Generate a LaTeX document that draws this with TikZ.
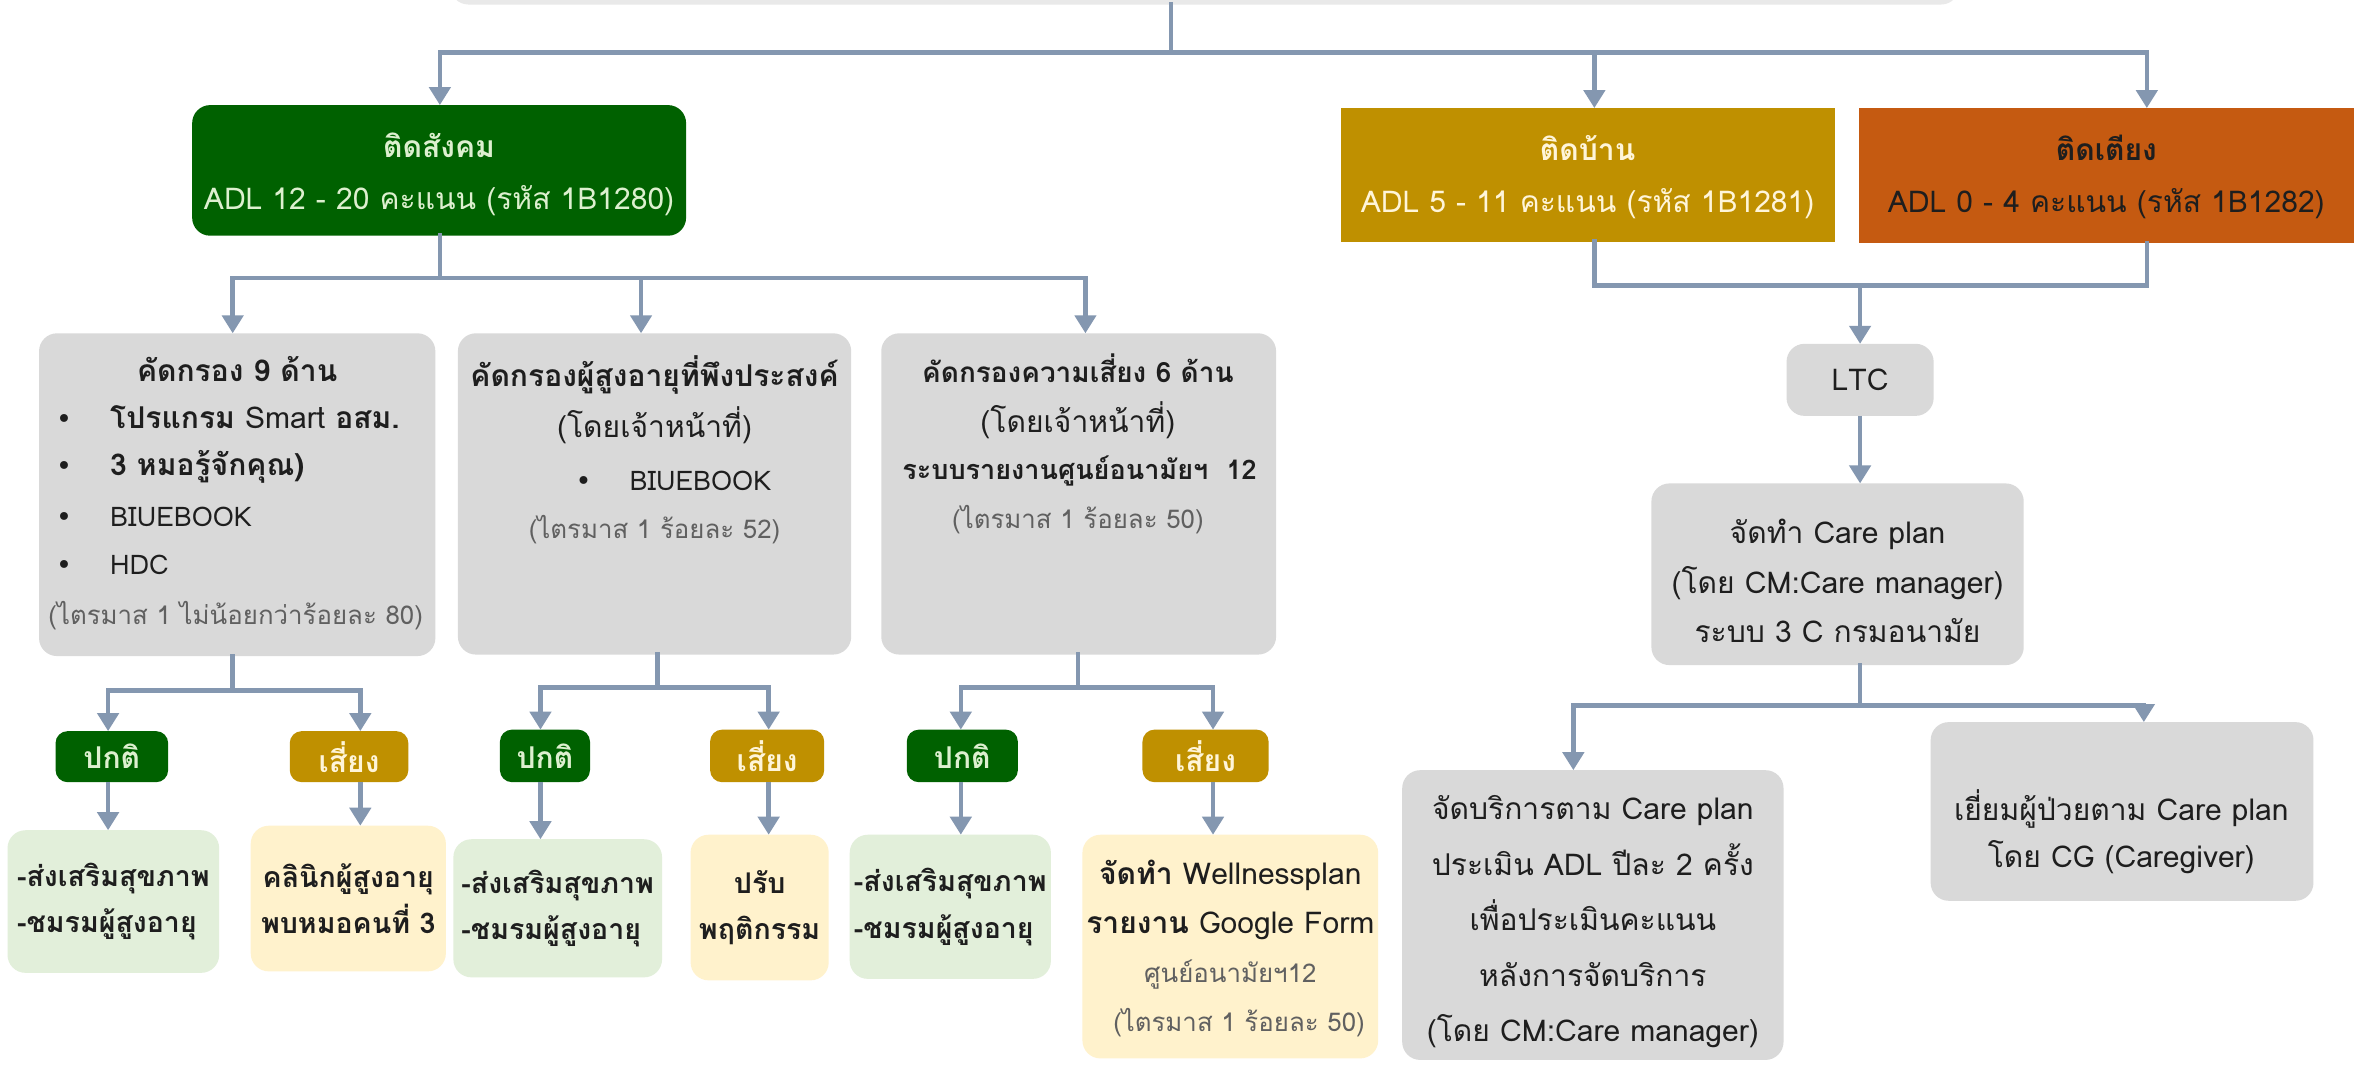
\documentclass[tikz,border=0pt]{standalone}
\usepackage{fontspec}
\setmainfont[Script=Thai]{Loma}
\newfontfamily\bulletfont{DejaVu Sans}
\usetikzlibrary{arrows.meta,fit,calc}
\definecolor{lineblue}{HTML}{8497B0}
\definecolor{dgreen}{HTML}{006100}
\definecolor{gold}{HTML}{BF9000}
\definecolor{rust}{HTML}{C55A11}
\definecolor{boxgray}{HTML}{D9D9D9}
\definecolor{topgray}{HTML}{E9E9E9}
\definecolor{lgreen}{HTML}{E2EFDA}
\definecolor{lyellow}{HTML}{FFF2CC}
\definecolor{txt}{HTML}{1E1E1E}
\definecolor{subtxt}{HTML}{606060}
\definecolor{ongreen}{HTML}{DDF0CF}
\definecolor{ongold}{HTML}{FFF5D9}
\newcommand\fsz{\fontsize{10}{15.5}\selectfont}
\newcommand\fszs{\fontsize{8.6}{15.5}\selectfont}
\newcommand\fszb{\fontsize{10}{18.5}\selectfont}
\newcommand\bul{\makebox[18pt][l]{\fontsize{9}{9}\bulletfont\char"2022}}
\begin{document}
\begin{tikzpicture}[x=0.5pt,y=-0.5pt,
  shp/.style={inner sep=0pt,outer sep=0pt,rounded corners=6pt},
  sqshp/.style={inner sep=0pt,outer sep=0pt},
  graybox/.style={shp,fill=boxgray},
  topbox/.style={shp,fill=topgray},
  greenbox/.style={shp,fill=dgreen},
  goldbox/.style={shp,fill=gold},
  lgbox/.style={shp,fill=lgreen},
  lybox/.style={shp,fill=lyellow},
  ln/.style={draw=lineblue,line width=1.5pt,line cap=rect},
  arr/.style={draw=lineblue,line width=1.5pt,-{Triangle[width=7pt,length=6pt]}},
  lbl/.style={inner sep=0pt,align=center,font=\fsz,text=txt},
  lbll/.style={inner sep=0pt,align=left,font=\fsz,text=txt},
  sub/.style={inner sep=0pt,align=center,font=\fszs,text=subtxt},
  bot/.style={font=\fontsize{9.5}{15.5}\selectfont},
]
\useasboundingbox (0,0) rectangle (1568,709);
\clip (0,0) rectangle (1568,709);
\fill[white] (0,0) rectangle (1568,709);

% ---- boxes ----
\node[topbox, fit={(300,-40) (1305,3)}] (top) {};
\node[greenbox, fit={(128,70) (457,157)}] (soc) {};
\node[sqshp, fill=gold, fit={(893,72) (1222,161)}] (home) {};
\node[sqshp, fill=rust, fit={(1238,72) (1568,162)}] (bed) {};
\node[graybox, fit={(1190,229) (1288,277)}] (ltc) {};
\node[graybox, fit={(1100,322) (1348,443)}] (cp) {};
\node[graybox, fit={(934,513) (1188,706)}] (svc) {};
\node[graybox, fit={(1286,481) (1541,600)}] (vis) {};
\node[graybox, fit={(26,222) (290,437)}] (s1) {};
\node[graybox, fit={(305,222) (567,436)}] (s2) {};
\node[graybox, fit={(587,222) (850,436)}] (s3) {};
\node[greenbox, rounded corners=4pt, fit={(37,487) (112,521)}] (n1) {};
\node[goldbox, rounded corners=4pt, fit={(193,487) (272,521)}] (r1) {};
\node[greenbox, rounded corners=4pt, fit={(333,486) (393,521)}] (n2) {};
\node[goldbox, rounded corners=4pt, fit={(473,486) (549,521)}] (r2) {};
\node[greenbox, rounded corners=4pt, fit={(604,486) (678,521)}] (n3) {};
\node[goldbox, rounded corners=4pt, fit={(761,486) (845,521)}] (r3) {};
\node[lgbox, fit={(5,553) (146,648)}] (a1) {};
\node[lybox, fit={(167,550) (297,647)}] (b1) {};
\node[lgbox, fit={(302,559) (441,651)}] (a2) {};
\node[lybox, fit={(460,556) (552,653)}] (b2) {};
\node[lgbox, fit={(566,556) (700,652)}] (a3) {};
\node[lybox, fit={(721,556) (918,705)}] (b3) {};

% ---- texts ----
\node[lbl, text=ongreen] (soct) at (292.5,116) {\bfseries ติดสังคม\\[2pt]ADL 12 - 20 คะแนน (รหัส 1B1280)};
\node[lbl, text=ongold] (homet) at (1057.5,118) {\bfseries ติดบ้าน\\[2pt]ADL 5 - 11 คะแนน (รหัส 1B1281)};
\node[lbl, text=txt] (bedt) at (1403,118) {\bfseries ติดเตียง\\[2pt]ADL 0 - 4 คะแนน (รหัส 1B1282)};
\node[lbl] (ltct) at (ltc.center) {LTC};
\node[lbl, font=\fontsize{10}{16.5}\selectfont] (cpt) at (1224,387) {จัดทำ Care plan\\(โดย CM:Care manager)\\ระบบ 3 C กรมอนามัย};
\node[lbl, font=\fszb] (svct) at (1061,614) {จัดบริการตาม Care plan\\ประเมิน ADL ปีละ 2 ครั้ง\\เพื่อประเมินคะแนน\\หลังการจัดบริการ\\(โดย CM:Care manager)};
\node[lbl] (vist) at (1413,554) {เยี่ยมผู้ป่วยตาม Care plan\\โดย CG (Caregiver)};

\node[lbl] (s1h) at (158,246) {\bfseries คัดกรอง 9 ด้าน};
\node[lbll, anchor=west] (s1b1) at (37,278) {\bul\textbf{โปรแกรม} Smart \textbf{อสม.}};
\node[lbll, anchor=west] (s1b2) at (37,311) {\bul\textbf{3 หมอรู้จักคุณ)}};
\node[lbll, anchor=west, font=\fontsize{9}{15}\selectfont] (s1b3) at (37,344) {\bul BIUEBOOK};
\node[lbll, anchor=west, font=\fontsize{9}{15}\selectfont] (s1b4) at (37,376) {\bul HDC};
\node[sub] (s1f) at (157,410) {(ไตรมาส 1 ไม่น้อยกว่าร้อยละ 80)};

\node[lbl] (s2h) at (436,250) {\bfseries คัดกรองผู้สูงอายุที่พึงประสงค์};
\node[lbl] (s2s) at (436,283) {(โดยเจ้าหน้าที่)};
\node[lbll, anchor=west, font=\fontsize{9}{15}\selectfont] (s2b1) at (383,320) {\bul BIUEBOOK};
\node[sub] (s2f) at (436,353) {(ไตรมาส 1 ร้อยละ 52)};

\node[lbl, font=\fontsize{9.3}{15}\selectfont] (s3h) at (718,245) {\bfseries คัดกรองความเสี่ยง 6 ด้าน};
\node[lbl] (s3s) at (718,280) {(โดยเจ้าหน้าที่)};
\node[lbl, font=\fontsize{9}{15}\selectfont] (s3r) at (719,314) {\bfseries ระบบรายงานศูนย์อนามัยฯ\ \ 12};
\node[sub] (s3f) at (718,346) {(ไตรมาส 1 ร้อยละ 50)};

\foreach \n in {n1,n2,n3} {\node[lbl, text=ongreen] (\n t) at (\n.center) {\bfseries ปกติ};}
\foreach \n in {r1,r2,r3} {\node[lbl, text=ongold] (\n t) at (\n.center) {\bfseries เสี่ยง};}

\node[lbll, bot] (a1t) at (a1.center) {\bfseries -ส่งเสริมสุขภาพ\\\bfseries -ชมรมผู้สูงอายุ};
\node[lbl, bot] (b1t) at (b1.center) {\bfseries คลินิกผู้สูงอายุ\\\bfseries พบหมอคนที่ 3};
\node[lbll, bot] (a2t) at (a2.center) {\bfseries -ส่งเสริมสุขภาพ\\\bfseries -ชมรมผู้สูงอายุ};
\node[lbl, bot] (b2t) at (b2.center) {\bfseries ปรับ\\\bfseries พฤติกรรม};
\node[lbll, bot] (a3t) at (a3.center) {\bfseries -ส่งเสริมสุขภาพ\\\bfseries -ชมรมผู้สูงอายุ};
\node[lbl, font=\fontsize{10}{16.3}\selectfont] (b3t) at (819.5,632) {\textbf{จัดทำ} Wellnessplan\\\textbf{รายงาน} Google Form\\{\fszs\color{subtxt}ศูนย์อนามัยฯ12}\\{\fszs\color{subtxt}\ \ (ไตรมาส 1 ร้อยละ 50)}};

% ---- connectors: top level ----
\coordinate (J0) at (780,35);
\coordinate (Dsoc) at (293,0);
\coordinate (Dhome) at (1062,0);
\coordinate (Dbed) at (1430,0);
\draw[ln] (top.south -| J0) -- (J0);
\draw[ln] (J0 -| Dsoc) -- (J0 -| Dbed);
\draw[arr] (J0 -| Dsoc) -- (soc.north -| Dsoc);
\draw[arr] (J0 -| Dhome) -- (home.north -| Dhome);
\draw[arr] (J0 -| Dbed) -- (bed.north -| Dbed);

% ---- right branch ----
\coordinate (J5) at (1239,190);
\draw[ln] (home.south -| Dhome) |- (J5);
\draw[ln] (bed.south -| Dbed) |- (J5);
\draw[arr] (J5) -- (ltc.north);
\draw[arr] (ltc.south) -- (ltc.south |- cp.north);
\coordinate (J6) at (1239,470);
\coordinate (F1) at (1048,0);
\coordinate (F2) at (1428,0);
\draw[ln] (cp.south -| J6) -- (J6);
\draw[ln] (J6 -| F1) -- (J6 -| F2);
\draw[arr] (J6 -| F1) -- (svc.north -| F1);
\draw[arr] (J6 -| F2) -- (vis.north -| F2);

% ---- left branch ----
\coordinate (J1) at (293,185);
\coordinate (D1) at (155,0);
\coordinate (D2) at (427,0);
\coordinate (D3) at (723,0);
\draw[ln] (soc.south -| J1) -- (J1);
\draw[ln] (J1 -| D1) -- (J1 -| D3);
\draw[arr] (J1 -| D1) -- (s1.north -| D1);
\draw[arr] (J1 -| D2) -- (s2.north -| D2);
\draw[arr] (J1 -| D3) -- (s3.north -| D3);

% under s1
\coordinate (J2) at (155,460);
\coordinate (E1) at (72,0);
\coordinate (E2) at (240,0);
\draw[ln] (s1.south -| J2) -- (J2);
\draw[ln] (J2 -| E1) -- (J2 -| E2);
\draw[arr] (J2 -| E1) -- (n1.north -| E1);
\draw[arr] (J2 -| E2) -- (r1.north -| E2);
\draw[arr] (n1.south -| E1) -- (a1.north -| E1);
\draw[arr] (r1.south -| E2) -- (b1.north -| E2);

% under s2
\coordinate (J3) at (438,458);
\coordinate (E3) at (360,0);
\coordinate (E4) at (512,0);
\draw[ln] (s2.south -| J3) -- (J3);
\draw[ln] (J3 -| E3) -- (J3 -| E4);
\draw[arr] (J3 -| E3) -- (n2.north -| E3);
\draw[arr] (J3 -| E4) -- (r2.north -| E4);
\draw[arr] (n2.south -| E3) -- (a2.north -| E3);
\draw[arr] (r2.south -| E4) -- (b2.north -| E4);

% under s3
\coordinate (J4) at (718,458);
\coordinate (E5) at (640,0);
\coordinate (E6) at (808,0);
\draw[ln] (s3.south -| J4) -- (J4);
\draw[ln] (J4 -| E5) -- (J4 -| E6);
\draw[arr] (J4 -| E5) -- (n3.north -| E5);
\draw[arr] (J4 -| E6) -- (r3.north -| E6);
\draw[arr] (n3.south -| E5) -- (a3.north -| E5);
\draw[arr] (r3.south -| E6) -- (b3.north -| E6);
\end{tikzpicture}
\end{document}
